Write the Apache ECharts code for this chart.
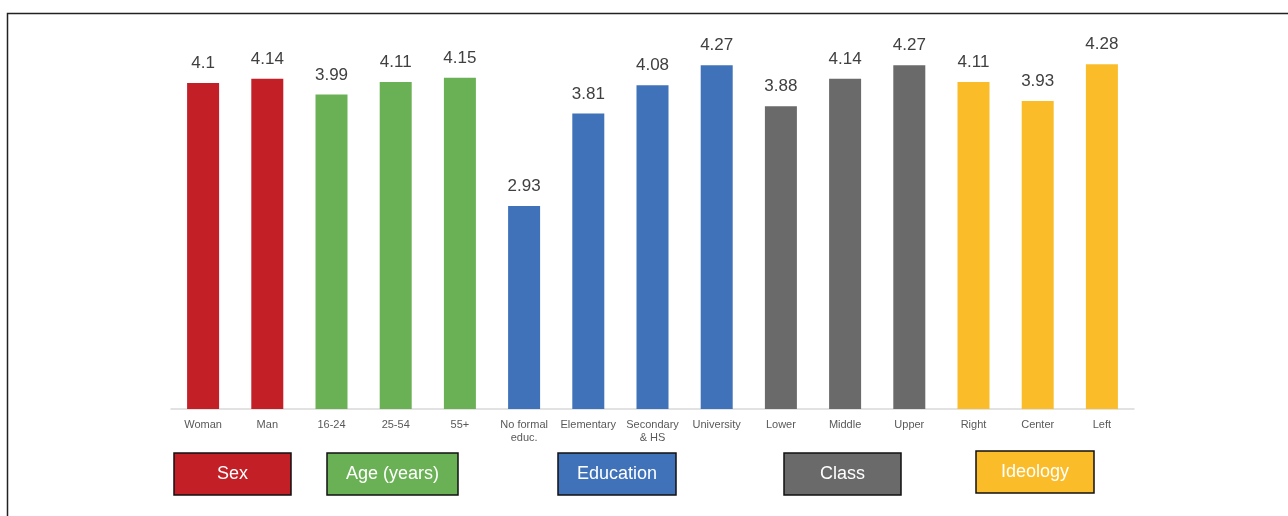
<!DOCTYPE html>
<html><head><meta charset="utf-8">
<script src="https://cdn.jsdelivr.net/npm/echarts@6/dist/echarts.min.js"></script>
<style>html,body{margin:0;padding:0;background:#fff}#c{width:1288px;height:516px}</style>
</head><body><div id="c"></div>
<script>
const categories = ['Woman','Man','16-24','25-54','55+','No formal\neduc.','Elementary','Secondary\n& HS','University','Lower','Middle','Upper','Right','Center','Left'];
const values = [4.1,4.14,3.99,4.11,4.15,2.93,3.81,4.08,4.27,3.88,4.14,4.27,4.11,3.93,4.28];
const groupOf = [0,0,1,1,1,2,2,2,2,3,3,3,4,4,4];
const groupNames = ['Sex','Age (years)','Education','Class','Ideology'];
const groupColors = ['#C21F26','#6AB155','#3F72B9','#6A6A6A','#FBBC2A'];

const chart = echarts.init(document.getElementById('c'));
const boxes = [
  {x:174,y:453,w:117,h:42},
  {x:327,y:453,w:131,h:42},
  {x:558,y:453,w:118,h:42},
  {x:784,y:453,w:117,h:42},
  {x:976,y:451,w:118,h:42}
];
const graphics = [{
  type:'polyline', silent:true,
  shape:{points:[[7.5,516],[7.5,13.5],[1288,13.5]]},
  style:{stroke:'#222',lineWidth:1.5,fill:null}
}];
boxes.forEach((b,i)=>{
  graphics.push({type:'rect',shape:{x:b.x,y:b.y,width:b.w,height:b.h},style:{fill:groupColors[i],stroke:'#111',lineWidth:1.5}});
  graphics.push({type:'text',x:b.x+b.w/2,y:b.y+b.h/2,style:{text:groupNames[i],fill:'#fff',font:'18px "Liberation Sans", Arial, sans-serif',align:'center',verticalAlign:'middle'}});
});
chart.setOption({
  animation:false,
  grid:{left:171,right:154,top:41,bottom:107},
  xAxis:{type:'category',data:categories,
    axisLine:{lineStyle:{color:'#d9d9d9',width:1.5}},axisTick:{show:false},
    axisLabel:{color:'#595959',fontSize:11,fontFamily:'"Liberation Sans", Arial, sans-serif',margin:9,interval:0,lineHeight:13}},
  yAxis:{type:'value',min:1,max:4.5,show:false,splitLine:{show:false}},
  series:[{type:'bar',barWidth:32,
    data:values.map((v,i)=>({value:v,itemStyle:{color:groupColors[groupOf[i]]}})),
    label:{show:true,position:'top',distance:11,color:'#404040',fontSize:17,fontFamily:'"Liberation Sans", Arial, sans-serif'}
  }],
  graphic:graphics
});
</script></body></html>
